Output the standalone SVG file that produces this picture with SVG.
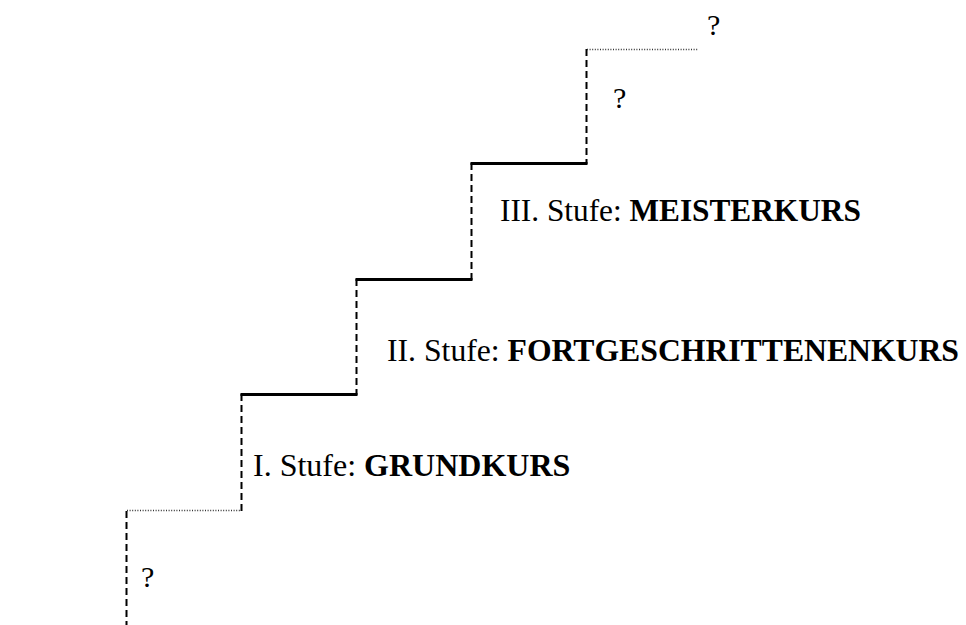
<svg xmlns="http://www.w3.org/2000/svg" width="966" height="625" viewBox="0 0 966 625">
  <style>
    .riser { stroke: #000; stroke-width: 2; stroke-dasharray: 7 4; fill: none; }
    .tread { stroke: #000; stroke-width: 3; fill: none; }
    .open { stroke: #333; stroke-width: 1.3; stroke-dasharray: 1 1.6; fill: none; }
    .lbl { font-family: "Liberation Serif", "Times New Roman", serif; font-size: 31.7px; fill: #000; }
    .q { font-family: "Liberation Serif", "Times New Roman", serif; font-size: 30px; fill: #000; }
    .b { font-weight: bold; }
  </style>
  <rect width="966" height="625" fill="#fff"/>

  <!-- staircase outline -->
  <g id="connectors">
    <line class="riser" x1="126.5" y1="511" x2="126.5" y2="625"/>
    <line class="open" x1="127" y1="510.5" x2="241" y2="510.5"/>
    <line class="riser" x1="241.5" y1="394" x2="241.5" y2="511"/>
    <line class="tread" x1="240.5" y1="394.5" x2="357.5" y2="394.5"/>
    <line class="riser" x1="356.5" y1="279" x2="356.5" y2="395"/>
    <line class="tread" x1="355.5" y1="279.5" x2="472.5" y2="279.5"/>
    <line class="riser" x1="471.5" y1="163" x2="471.5" y2="280"/>
    <line class="tread" x1="470.5" y1="163.5" x2="587.5" y2="163.5"/>
    <line class="riser" x1="586.5" y1="49" x2="586.5" y2="164"/>
    <line class="open" x1="587" y1="49.5" x2="698" y2="49.5"/>
  </g>

  <!-- open step below the first level -->
  <g id="step-below">
    <text class="q" x="141" y="587">?</text>
  </g>

  <g id="step-1">
    <text class="lbl" x="253" y="476" style="font-size:32px">I. Stufe: <tspan class="b">GRUNDKURS</tspan></text>
  </g>

  <g id="step-2">
    <text class="lbl" x="387" y="361">II. Stufe: <tspan class="b">FORTGESCHRITTENENKURS</tspan></text>
  </g>

  <g id="step-3">
    <text class="lbl" x="500" y="221" style="font-size:31.3px">III. Stufe: <tspan class="b">MEISTERKURS</tspan></text>
  </g>

  <!-- open steps above the third level -->
  <g id="step-4">
    <text class="q" x="613" y="108">?</text>
  </g>
  <g id="step-5">
    <text class="q" x="707" y="35">?</text>
  </g>
</svg>
